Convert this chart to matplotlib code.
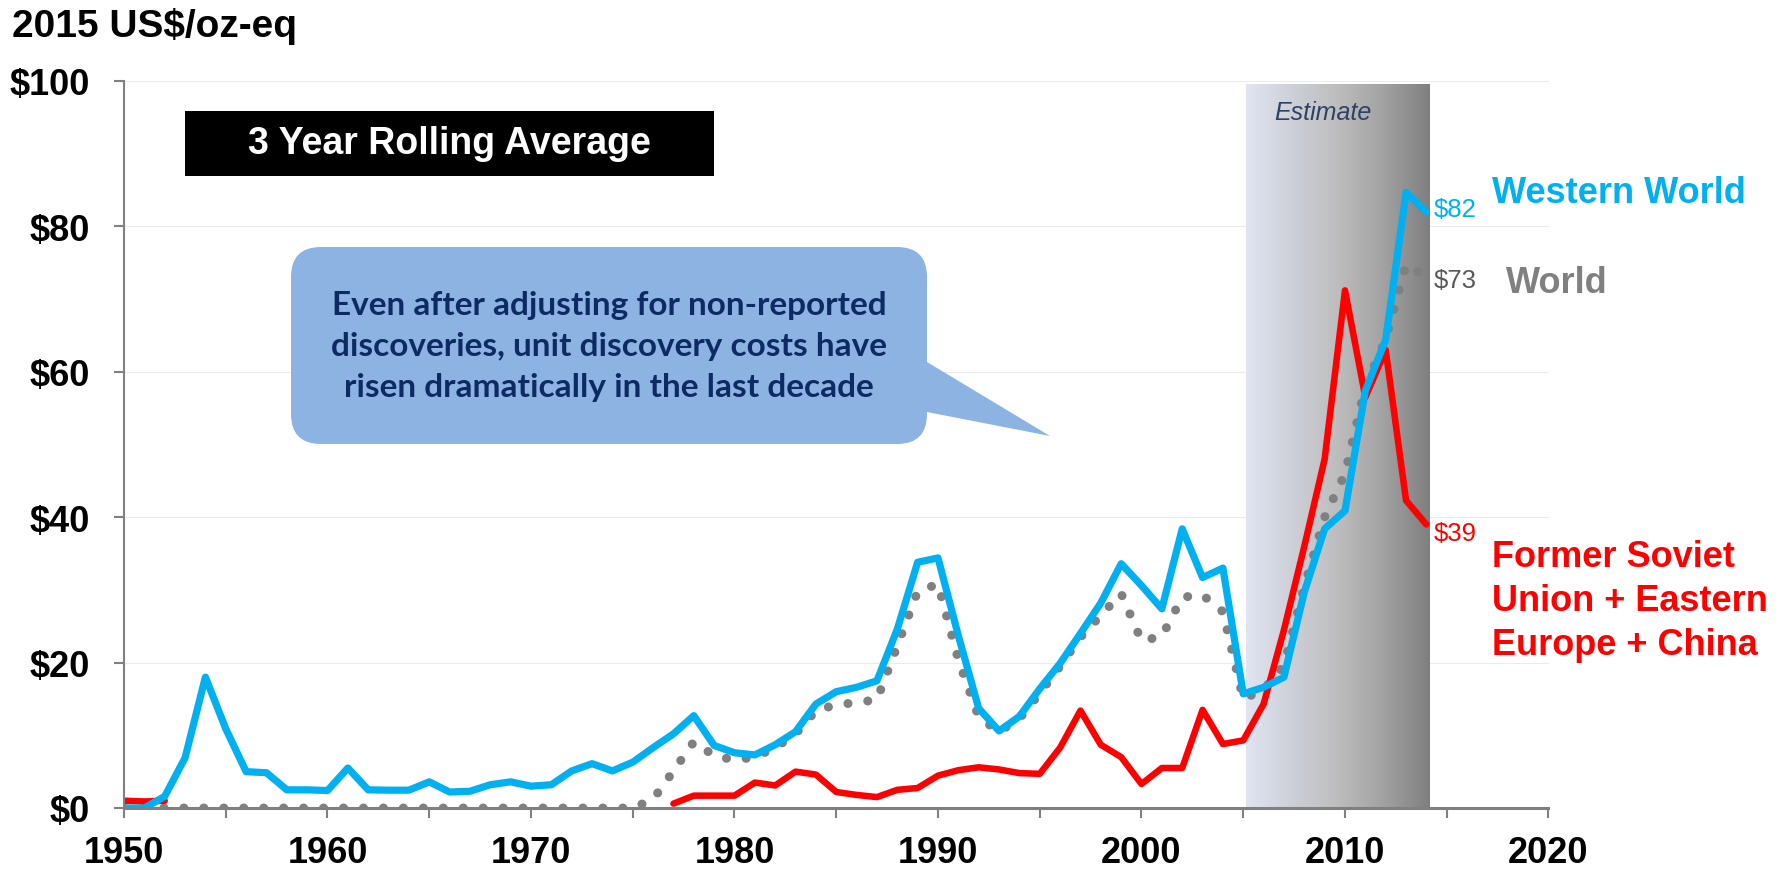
import numpy as np
import matplotlib
matplotlib.use("Agg")
import matplotlib.pyplot as plt
from matplotlib.patches import FancyBboxPatch, Polygon, Rectangle
from matplotlib.transforms import Affine2D
from matplotlib.colors import to_rgb

plt.rcParams["font.family"] = ["Liberation Sans", "DejaVu Sans"]
plt.rcParams["text.parse_math"] = False

# ---------------------------------------------------------------- data
years = list(range(1950, 2015))

western_world = [
    0.0, 0.0, 1.6, 6.9, 18.0, 10.9, 5.0, 4.85, 2.5, 2.5,          # 1950-59
    2.4, 5.5, 2.5, 2.45, 2.45, 3.6, 2.2, 2.3, 3.2, 3.6,          # 1960-69
    3.0, 3.2, 5.1, 6.1, 5.1, 6.3, 8.3, 10.2, 12.7, 8.6,          # 1970-79
    7.6, 7.3, 8.7, 10.5, 14.3, 16.0, 16.6, 17.5, 24.6, 33.8,     # 1980-89
    34.4, 23.7, 13.7, 10.6, 12.6, 16.4, 19.9, 24.0, 28.2, 33.6,  # 1990-99
    30.6, 27.4, 38.4, 31.7, 33.0, 15.7, 16.6, 18.0, 29.7, 38.4,  # 2000-09
    40.9, 57.4, 64.4, 84.7, 82.0,                                # 2010-14
]

fsu_ee_china = [
    1.0, 0.9, 1.0] + [np.nan] * 24 + [
    0.6, 1.7, 1.7,                                               # 1977-79
    1.7, 3.5, 3.1, 5.0, 4.6, 2.2, 1.8, 1.5, 2.5, 2.75,           # 1980-89
    4.45, 5.2, 5.6, 5.3, 4.8, 4.7, 8.3, 13.4, 8.7, 7.0,          # 1990-99
    3.3, 5.5, 5.5, 13.5, 8.8, 9.3, 14.3, 24.5, 36.0, 48.0,       # 2000-09
    71.2, 56.5, 63.0, 42.3, 39.0,                                # 2010-14
]

world = [0.0] * 26 + [
    1.2, 5.1, 9.1, 7.2,                                          # 1976-79
    6.6, 7.0, 8.3, 10.2, 13.4, 14.2, 14.5, 14.9, 22.3, 29.8,     # 1980-89
    30.8, 20.4, 12.5, 10.5, 12.3, 15.8, 19.5, 23.5, 26.5, 29.5,  # 1990-99
    23.0, 23.6, 29.0, 29.3, 27.0, 15.0, 16.3, 19.6, 30.5, 40.0,  # 2000-09
    46.0, 58.0, 64.5, 74.7, 73.0,                                # 2010-14
]

y_ticks = [0, 20, 40, 60, 80, 100]
y_tick_labels = ["$0", "$20", "$40", "$60", "$80", "$100"]
x_ticks = [1950, 1960, 1970, 1980, 1990, 2000, 2010, 2020]
x_tick_labels = ["1950", "1960", "1970", "1980", "1990", "2000", "2010", "2020"]
x_minor_ticks = [1955, 1965, 1975, 1985, 1995, 2005, 2015]
estimate_span = (2005.15, 2014.15)

series_names = ["Western World", "World",
                "Former Soviet\nUnion + Eastern\nEurope + China"]
callout_lines = ["Even after adjusting for non-reported",
                 "discoveries, unit discovery costs have",
                 "risen dramatically in the last decade"]

BLUE = "#00B0F0"
RED = "#FF0000"
GREY = "#808080"

# ---------------------------------------------------------------- figure
W, H = 1786, 870
fig = plt.figure(figsize=(W / 100, H / 100), dpi=100)
# pixel coordinates measured from the top-left corner of the figure
px = Affine2D().scale(1.0 / W, -1.0 / H).translate(0, 1) + fig.transFigure

ax = fig.add_axes([124 / W, (H - 809) / H, (1548.5 - 124) / W, (809 - 82) / H])

# estimate band with a left-to-right gradient
stops = [(0.0, "#E1E5F2"), (0.25, "#CDD0D8"), (0.5, "#BDBDBD"),
         (0.75, "#A2A2A2"), (1.0, "#7F7F7F")]
pos = np.linspace(0, 1, 256)
sp = [s[0] for s in stops]
cols = np.array([to_rgb(s[1]) for s in stops])
grad = np.stack([np.interp(pos, sp, cols[:, k]) for k in range(3)], axis=-1)
ax.imshow(grad[np.newaxis, :, :], extent=[estimate_span[0], estimate_span[1], 0, 99.5],
          aspect="auto", interpolation="bilinear", zorder=1)
ax.set_xlim(1950, 2020)
ax.set_ylim(0, 100)
ax.text(2008.9, 94.8, "Estimate", ha="center", va="baseline", fontsize=18,
        style="italic", color="#2E4266",
        family=["Liberation Sans Narrow", "Liberation Sans"], zorder=3)

# series
ax.plot(years, world, color=GREY, lw=6.5, linestyle=(0, (0.01, 2.2)),
        dash_capstyle="round", zorder=2)
ax.plot(years, fsu_ee_china, color=RED, lw=4.7, solid_capstyle="round",
        solid_joinstyle="round", zorder=3)
ax.plot(years, western_world, color=BLUE, lw=5.2, solid_capstyle="round",
        solid_joinstyle="round", zorder=4)

# end-of-series value labels
narrow = ["Liberation Sans Narrow", "Liberation Sans"]
for vals, col, dy in [(western_world, BLUE, -3), (world, "#595959", -7),
                      (fsu_ee_china, RED, -11)]:
    ax.annotate(f"${vals[-1]:.0f}", xy=(years[-1], vals[-1]),
                xytext=(5, dy), textcoords="offset points",
                ha="left", va="baseline", fontsize=18.5, color=col,
                family=narrow, annotation_clip=False, zorder=5)

# axes styling
ax.set_yticks(y_ticks)
ax.set_yticklabels(y_tick_labels)
ax.set_xticks(x_ticks)
ax.set_xticklabels(x_tick_labels)
ax.set_xticks(x_minor_ticks, minor=True)
for lab in ax.get_xticklabels() + ax.get_yticklabels():
    lab.set_fontweight("bold")
    lab.set_fontsize(26)
ax.tick_params(axis="x", which="both", direction="out", length=7.5, width=1.5,
               color=GREY, pad=12)
ax.tick_params(axis="y", direction="out", length=7.5, width=1.5,
               color=GREY, pad=17)
ax.grid(axis="y", color="#EBEBEB", lw=0.8, zorder=0)
ax.set_axisbelow(True)
for side in ("top", "right"):
    ax.spines[side].set_visible(False)
ax.spines["left"].set_color(GREY)
ax.spines["left"].set_linewidth(1.5)
ax.spines["bottom"].set_color(GREY)
ax.spines["bottom"].set_linewidth(2.2)
ax.spines["left"].set_zorder(6)
ax.spines["bottom"].set_zorder(6)

# unit title
fig.text(12, 36.7, "2015 US$/oz-eq", transform=px, ha="left", va="baseline",
         fontsize=28, fontweight="bold", color="black")

# "3 Year Rolling Average" tag
fig.add_artist(Rectangle((185, 112), 529, 65, transform=px, fc="black",
                         ec="none"))
fig.text(449.5, 144.5, "3 Year Rolling Average", transform=px, ha="center",
         va="center", fontsize=27, fontweight="bold", color="white")

# callout bubble
bubble = "#8DB3E2"
fig.add_artist(FancyBboxPatch((291, 248), 636, 197,
                              boxstyle="round,pad=0,rounding_size=30",
                              transform=px, fc=bubble, ec="none"))
fig.add_artist(Polygon([(912, 363), (927, 363), (1050, 437), (927, 413),
                        (912, 413)], closed=True, transform=px, fc=bubble,
                       ec="none"))
for i, line in enumerate(callout_lines):
    fig.text(609, 306 + 41 * i, line, transform=px, ha="center", va="center",
             fontsize=24, fontweight="bold", color="#0E2A64",
             family=["Lato", "Liberation Sans"])

# series names
fig.text(1491.5, 203, series_names[0], transform=px, ha="left",
         va="baseline", fontsize=26, fontweight="bold", color=BLUE)
fig.text(1506, 293, series_names[1], transform=px, ha="left",
         va="baseline", fontsize=26, fontweight="bold", color=GREY)
for i, line in enumerate(series_names[2].split("\n")):
    fig.text(1491.5, 566.7 + 44 * i, line, transform=px, ha="left",
             va="baseline", fontsize=26, fontweight="bold", color=RED)

fig.savefig("out.png", dpi=100)
